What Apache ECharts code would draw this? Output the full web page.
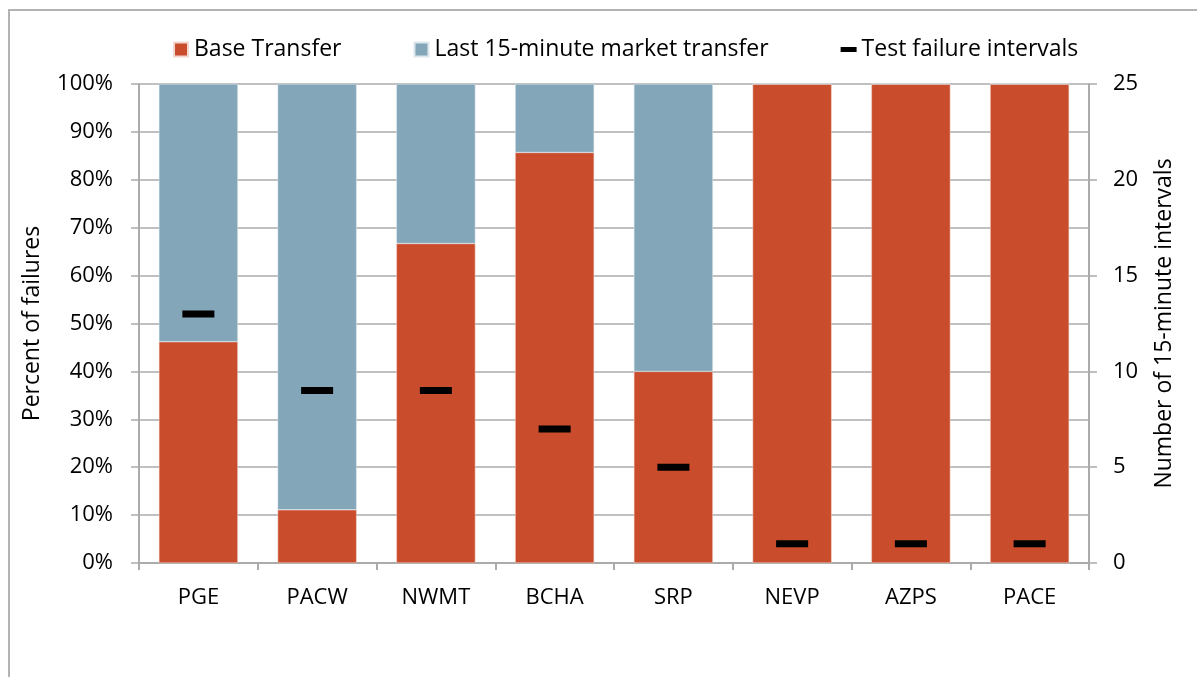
<!DOCTYPE html>
<html>
<head>
<meta charset="utf-8">
<script src="https://cdn.jsdelivr.net/npm/echarts@6/dist/echarts.min.js"></script>
<style>
  html, body { margin: 0; padding: 0; background: #fff; }
  #frame { position: absolute; left: 8px; top: 9px; width: 1200px; height: 700px;
           border-left: 2px solid #b3b3b3; border-top: 2px solid #b3b3b3; }
  #chart { position: absolute; left: 0; top: 0; width: 1197px; height: 677px; }
</style>
</head>
<body>
<div id="frame"></div>
<div id="chart"></div>
<script>
// data
const categories = ['PGE', 'PACW', 'NWMT', 'BCHA', 'SRP', 'NEVP', 'AZPS', 'PACE']
const baseTransfer = [46.2, 11.1, 66.7, 85.7, 40.0, 100, 100, 100]
const lastTransfer = [53.8, 88.9, 33.3, 14.3, 60.0, 0, 0, 0]
const failureIntervals = [13, 9, 9, 7, 5, 1, 1, 1]

const font = 'Open Sans'
const gridColor = '#ababab'
const fs = 22

const chart = echarts.init(document.getElementById('chart'))
chart.setOption({
  textStyle: { fontFamily: font, color: '#000' },
  legend: {
    top: 33,
    left: 168,
    itemGap: 72,
    itemWidth: 16,
    itemHeight: 14,
    textStyle: { fontSize: 23, fontFamily: font, color: '#000' },
    data: [
      { name: 'Base Transfer', icon: 'path://M0,0 L14,0 L14,14 L0,14 Z' },
      { name: 'Last 15-minute market transfer', icon: 'path://M0,0 L14,0 L14,14 L0,14 Z' },
      { name: 'Test failure intervals', icon: 'path://M0,0 L16,0 L16,5 L0,5 Z', itemStyle: { color: '#000' } }
    ]
  },
  grid: { left: 139, right: 108, top: 84, bottom: 114 },
  xAxis: {
    type: 'category',
    data: categories,
    axisLine: { lineStyle: { color: gridColor, width: 2 } },
    axisTick: { show: true, length: 7, lineStyle: { color: gridColor, width: 2 } },
    axisLabel: { fontSize: fs, color: '#000', margin: 24 }
  },
  yAxis: [
    {
      type: 'value', min: 0, max: 100, interval: 10,
      name: 'Percent of failures', nameLocation: 'middle', nameGap: 95,
      nameTextStyle: { fontSize: 23, color: '#000' },
      axisLine: { show: true, lineStyle: { color: gridColor, width: 2 } },
      axisTick: { show: true, length: 8, lineStyle: { color: gridColor, width: 1.5 } },
      axisLabel: { fontSize: fs, color: '#000', margin: 26, formatter: '{value}%' },
      splitLine: { lineStyle: { color: gridColor, width: 1.5 } }
    },
    {
      type: 'value', min: 0, max: 25, interval: 5,
      name: 'Number of 15-minute intervals', nameLocation: 'middle', nameGap: 64,
      nameRotate: 90,
      nameTextStyle: { fontSize: 23, color: '#000' },
      axisLine: { show: true, lineStyle: { color: gridColor, width: 2 } },
      axisTick: { show: true, length: 8, lineStyle: { color: gridColor, width: 1.5 } },
      axisLabel: { fontSize: fs, color: '#000', margin: 24 },
      splitLine: { show: false }
    }
  ],
  series: [
    {
      name: 'Base Transfer', type: 'bar', stack: 'pct', data: baseTransfer,
      barWidth: 79,
      itemStyle: { color: '#c94c2c', borderColor: '#f2d6cf', borderWidth: 0.5 }
    },
    {
      name: 'Last 15-minute market transfer', type: 'bar', stack: 'pct', data: lastTransfer,
      barWidth: 79,
      itemStyle: { color: '#83a6b9', borderColor: '#dde7ee', borderWidth: 0.5 }
    },
    {
      name: 'Test failure intervals', type: 'scatter', yAxisIndex: 1, data: failureIntervals,
      symbol: 'rect', symbolSize: [32, 7],
      itemStyle: { color: '#000', opacity: 1 }, z: 5
    }
  ]
})
</script>
</body>
</html>
